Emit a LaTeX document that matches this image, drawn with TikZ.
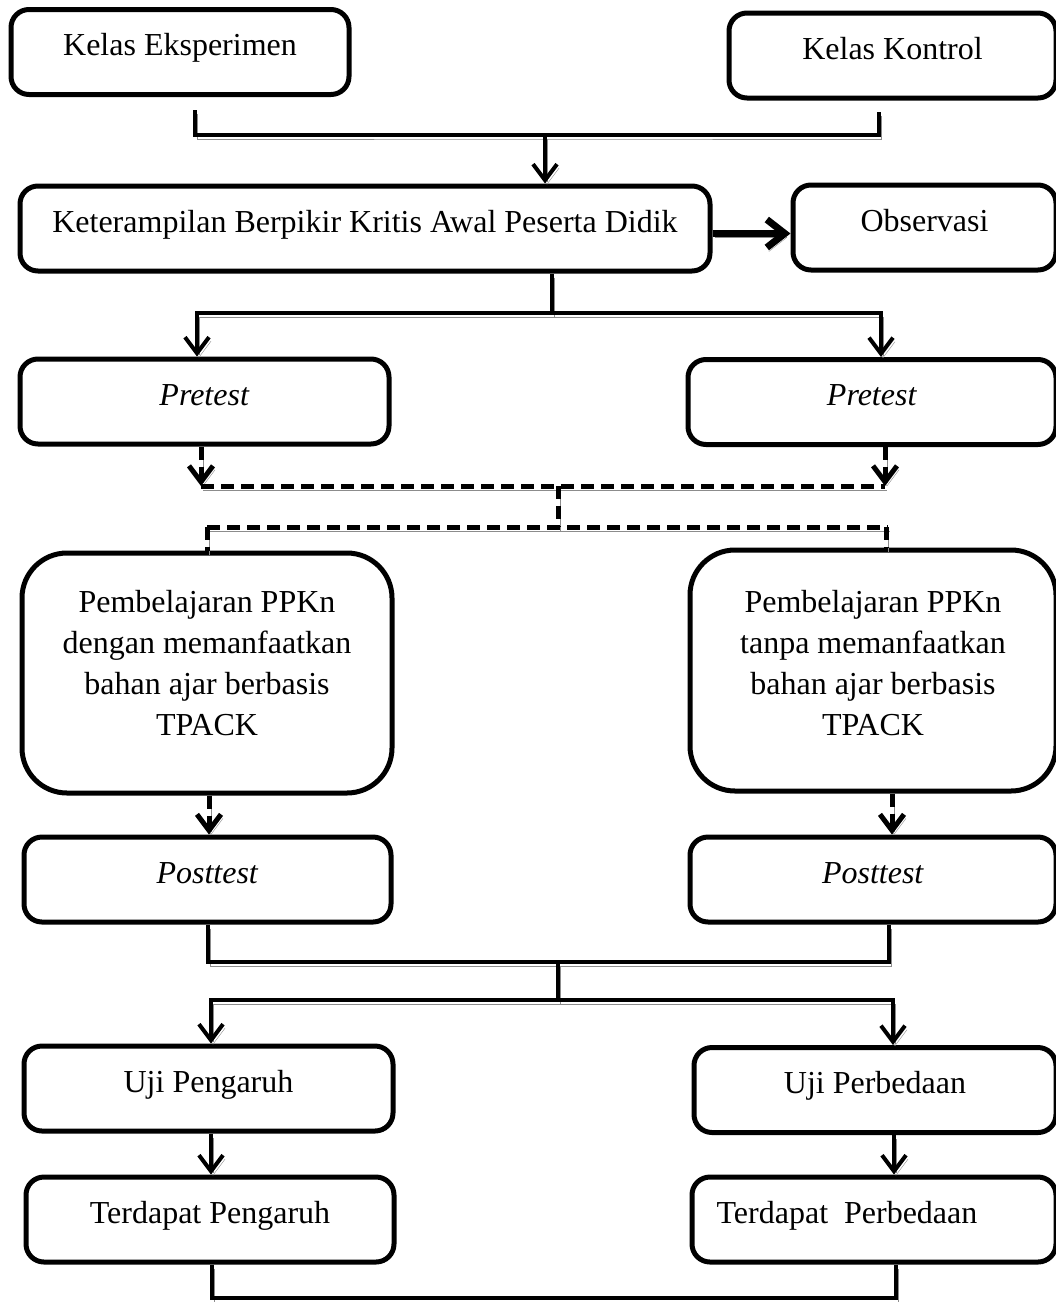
\documentclass[tikz,border=0pt]{standalone}
\usepackage{fontspec}
\setmainfont{Liberation Serif}
\usetikzlibrary{arrows.meta}
\begin{document}
\begin{tikzpicture}[x=1pt,y=-1pt,
  every node/.style={font=\fontsize{32}{41}\selectfont},
  box/.style={draw, line width=5pt, rounded corners=18pt, inner sep=0pt,
    text height=46pt, text depth=39pt, minimum width=#1},
  bigbox/.style={draw, line width=5pt, rounded corners=45pt, inner sep=0pt,
    align=center, minimum width=#1},
  shd/.style={preaction={draw=black!45, transform canvas={xshift=2pt,yshift=-4pt}}},
  conn/.style={line width=4pt, shd},
  dconn/.style={line width=5pt, dash pattern=on 13pt off 7pt, shd},
  arr/.style={-{Straight Barb[length=16pt,width=24pt]}},
]
\useasboundingbox (0,0) rectangle (1056,1302);

% boxes
\node[box=338pt] (ke) at (180,52) {Kelas Eksperimen};
\node[box=327pt] (kk) at (892.5,55.5) {Kelas Kontrol};
\node[box=690pt] (kt) at (365,228.5) {Keterampilan Berpikir Kritis Awal Peserta Didik};
\node[box=263pt] (obs) at (924.5,227.5) {Observasi};
\node[box=369pt] (pl) at (204.5,401.5) {\textit{Pretest}};
\node[box=368pt] (pr) at (872,402) {\textit{Pretest}};
\node[bigbox=370pt, text height=182pt, text depth=58pt] (bl) at (207,673)
  {Pembelajaran PPKn\\dengan memanfaatkan\\bahan ajar berbasis\\TPACK};
\node[bigbox=366pt, text height=185pt, text depth=56pt] (br) at (873,670.5)
  {Pembelajaran PPKn\\tanpa memanfaatkan\\bahan ajar berbasis\\TPACK};
\node[box=367pt] (ql) at (207.5,879.5) {\textit{Posttest}};
\node[box=366pt] (qr) at (873,879.5) {\textit{Posttest}};
\node[box=369pt] (ul) at (208.5,1088.5) {Uji Pengaruh};
\node[box=362pt] (ur) at (875,1090) {Uji Perbedaan};
\node[box=368pt] (tl) at (210,1219.5) {Terdapat Pengaruh};
\node[box=364pt] (tr) at (874,1219.5) {Terdapat~ Perbedaan\hbox to 54pt{}};

% top join
\coordinate (a1) at (195,110);
\coordinate (a2) at (879,112);
\coordinate (a3) at (545,135);
\draw[conn] (a1) |- (a3) -| (a2);
\draw[conn,arr] (a3) -- (a3 |- kt.north);
\draw[conn, line width=7pt, -{Straight Barb[length=18pt,width=28pt]}]
  ([yshift=-5pt]kt.east) -- ([yshift=-5pt]kt.east -| obs.west);

% split to pretests
\coordinate (b1) at (552,313);
\coordinate (b2) at (197,313);
\coordinate (b3) at (881,313);
\draw[conn] (kt.south -| b1) -- (b1);
\draw[conn,arr] (b1) -| (pl.north -| b2);
\draw[conn,arr] (b1) -| (pr.north -| b3);

% dashed part
\coordinate (c1) at (201,486);
\coordinate (c2) at (885,486);
\coordinate (c3) at (558,486);
\coordinate (c4) at (558,527);
\coordinate (c5) at (207,527);
\coordinate (c6) at (886,527);
\draw[dconn,arr] (pl.south -| c1) -- (c1);
\draw[dconn,arr] (pr.south -| c2) -- (c2);
\draw[dconn] (c1) -- (c2);
\draw[dconn] (c3) -- (c4);
\draw[dconn] (c5) -- ([xshift=2pt]c6);
\draw[dconn] (c5) -- (bl.north -| c5);
\draw[dconn] (c6) -- (br.north -| c6);
\draw[dconn,arr] ([xshift=2pt]bl.south) -- ([xshift=2pt]bl.south |- ql.north);
\draw[dconn,arr] ([xshift=19pt]br.south) -- ([xshift=19pt]br.south |- qr.north);

% posttests to tests
\coordinate (e1) at (208,962);
\coordinate (e2) at (889,962);
\coordinate (e3) at (558,962);
\coordinate (e4) at (558,1000);
\coordinate (e5) at (211,1000);
\coordinate (e6) at (893,1000);
\draw[conn] (ql.south -| e1) |- (e2) -- (qr.south -| e2);
\draw[conn] (e3) -- (e4);
\draw[conn,arr] (e4) -| (ul.north -| e5);
\draw[conn,arr] (e4) -| (ur.north -| e6);

\draw[conn,arr] ([xshift=2.5pt]ul.south) -- ([xshift=2.5pt]ul.south |- tl.north);
\draw[conn,arr] ([xshift=19pt]ur.south) -- ([xshift=19pt]ur.south |- tr.north);

% bottom join
\coordinate (f1) at (212,1298);
\coordinate (f2) at (896,1298);
\draw[conn] (tl.south -| f1) |- (f2) -- (tr.south -| f2);
\end{tikzpicture}
\end{document}
